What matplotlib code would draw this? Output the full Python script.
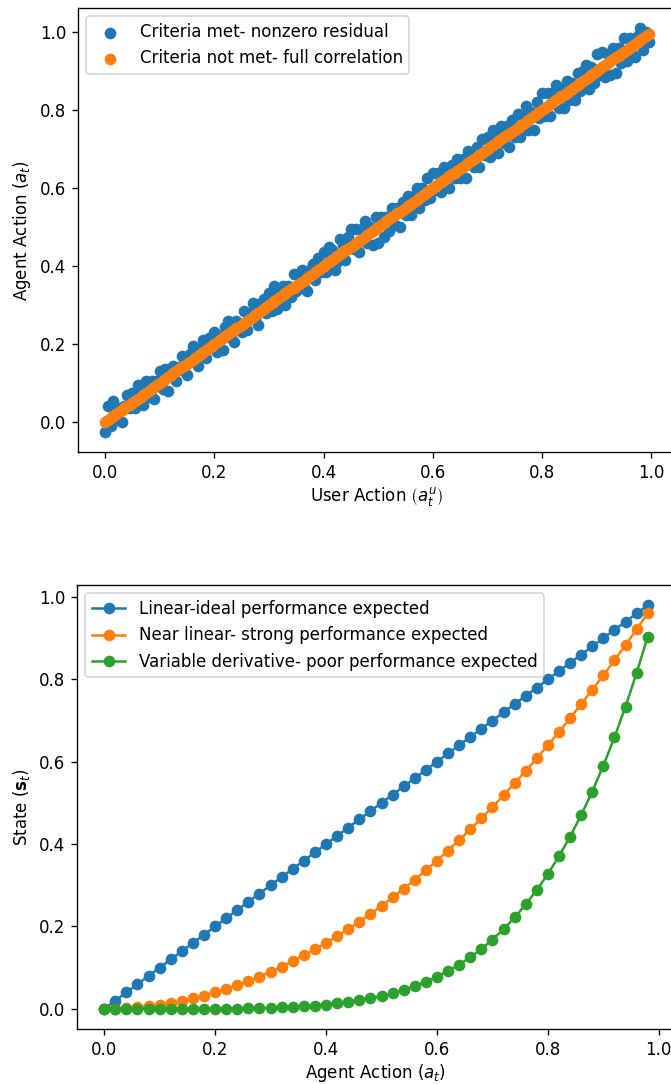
import matplotlib
matplotlib.use("Agg")
import matplotlib.pyplot as plt

# --- top panel: user action vs agent action ---
user_action = [
    0.000, 0.005, 0.010, 0.015, 0.020, 0.025, 0.030, 0.035, 0.040, 0.045,
    0.050, 0.055, 0.060, 0.065, 0.070, 0.075, 0.080, 0.085, 0.090, 0.095,
    0.100, 0.105, 0.110, 0.115, 0.120, 0.125, 0.130, 0.135, 0.140, 0.145,
    0.150, 0.155, 0.160, 0.165, 0.170, 0.175, 0.180, 0.185, 0.190, 0.195,
    0.200, 0.205, 0.210, 0.215, 0.220, 0.225, 0.230, 0.235, 0.240, 0.245,
    0.250, 0.255, 0.260, 0.265, 0.270, 0.275, 0.280, 0.285, 0.290, 0.295,
    0.300, 0.305, 0.310, 0.315, 0.320, 0.325, 0.330, 0.335, 0.340, 0.345,
    0.350, 0.355, 0.360, 0.365, 0.370, 0.375, 0.380, 0.385, 0.390, 0.395,
    0.400, 0.405, 0.410, 0.415, 0.420, 0.425, 0.430, 0.435, 0.440, 0.445,
    0.450, 0.455, 0.460, 0.465, 0.470, 0.475, 0.480, 0.485, 0.490, 0.495,
    0.500, 0.505, 0.510, 0.515, 0.520, 0.525, 0.530, 0.535, 0.540, 0.545,
    0.550, 0.555, 0.560, 0.565, 0.570, 0.575, 0.580, 0.585, 0.590, 0.595,
    0.600, 0.605, 0.610, 0.615, 0.620, 0.625, 0.630, 0.635, 0.640, 0.645,
    0.650, 0.655, 0.660, 0.665, 0.670, 0.675, 0.680, 0.685, 0.690, 0.695,
    0.700, 0.705, 0.710, 0.715, 0.720, 0.725, 0.730, 0.735, 0.740, 0.745,
    0.750, 0.755, 0.760, 0.765, 0.770, 0.775, 0.780, 0.785, 0.790, 0.795,
    0.800, 0.805, 0.810, 0.815, 0.820, 0.825, 0.830, 0.835, 0.840, 0.845,
    0.850, 0.855, 0.860, 0.865, 0.870, 0.875, 0.880, 0.885, 0.890, 0.895,
    0.900, 0.905, 0.910, 0.915, 0.920, 0.925, 0.930, 0.935, 0.940, 0.945,
    0.950, 0.955, 0.960, 0.965, 0.970, 0.975, 0.980, 0.985, 0.990, 0.995,
]
agent_action_noisy = [
    -0.025, 0.040, -0.010, 0.055, 0.005, 0.035, 0.000, 0.040, 0.070, 0.035,
    0.075, 0.035, 0.095, 0.080, 0.045, 0.105, 0.065, 0.105, 0.060, 0.105,
    0.130, 0.085, 0.135, 0.080, 0.135, 0.145, 0.105, 0.140, 0.170, 0.130,
    0.120, 0.175, 0.195, 0.155, 0.145, 0.190, 0.210, 0.165, 0.215, 0.190,
    0.230, 0.180, 0.220, 0.185, 0.245, 0.260, 0.215, 0.205, 0.260, 0.250,
    0.230, 0.285, 0.235, 0.280, 0.305, 0.265, 0.250, 0.305, 0.315, 0.280,
    0.330, 0.285, 0.350, 0.290, 0.330, 0.350, 0.300, 0.350, 0.320, 0.380,
    0.335, 0.375, 0.390, 0.340, 0.335, 0.390, 0.405, 0.365, 0.420, 0.385,
    0.435, 0.385, 0.450, 0.440, 0.390, 0.410, 0.470, 0.455, 0.415, 0.475,
    0.495, 0.445, 0.495, 0.435, 0.495, 0.515, 0.460, 0.500, 0.455, 0.525,
    0.460, 0.525, 0.475, 0.525, 0.490, 0.550, 0.505, 0.550, 0.500, 0.565,
    0.530, 0.580, 0.530, 0.580, 0.600, 0.550, 0.600, 0.570, 0.625, 0.575,
    0.640, 0.595, 0.640, 0.590, 0.655, 0.645, 0.600, 0.660, 0.625, 0.675,
    0.625, 0.675, 0.625, 0.695, 0.685, 0.655, 0.705, 0.655, 0.725, 0.685,
    0.730, 0.680, 0.750, 0.735, 0.690, 0.760, 0.715, 0.760, 0.705, 0.775,
    0.730, 0.790, 0.730, 0.785, 0.810, 0.750, 0.795, 0.750, 0.820, 0.780,
    0.845, 0.785, 0.845, 0.785, 0.845, 0.865, 0.805, 0.855, 0.805, 0.875,
    0.825, 0.870, 0.825, 0.895, 0.850, 0.900, 0.915, 0.855, 0.910, 0.870,
    0.945, 0.890, 0.950, 0.885, 0.945, 0.890, 0.960, 0.895, 0.960, 0.920,
    0.985, 0.925, 0.985, 0.945, 0.935, 0.990, 1.010, 0.955, 1.000, 0.975,
]

# --- bottom panel: agent action vs state ---
agent_action = [
    0.00, 0.02, 0.04, 0.06, 0.08, 0.10, 0.12, 0.14, 0.16, 0.18,
    0.20, 0.22, 0.24, 0.26, 0.28, 0.30, 0.32, 0.34, 0.36, 0.38,
    0.40, 0.42, 0.44, 0.46, 0.48, 0.50, 0.52, 0.54, 0.56, 0.58,
    0.60, 0.62, 0.64, 0.66, 0.68, 0.70, 0.72, 0.74, 0.76, 0.78,
    0.80, 0.82, 0.84, 0.86, 0.88, 0.90, 0.92, 0.94, 0.96, 0.98,
]
state_linear = [
    0.00, 0.02, 0.04, 0.06, 0.08, 0.10, 0.12, 0.14, 0.16, 0.18,
    0.20, 0.22, 0.24, 0.26, 0.28, 0.30, 0.32, 0.34, 0.36, 0.38,
    0.40, 0.42, 0.44, 0.46, 0.48, 0.50, 0.52, 0.54, 0.56, 0.58,
    0.60, 0.62, 0.64, 0.66, 0.68, 0.70, 0.72, 0.74, 0.76, 0.78,
    0.80, 0.82, 0.84, 0.86, 0.88, 0.90, 0.92, 0.94, 0.96, 0.98,
]
state_near_linear = [
    0.0000, 0.0004, 0.0016, 0.0036, 0.0064, 0.0100, 0.0144, 0.0196, 0.0256, 0.0324,
    0.0400, 0.0484, 0.0576, 0.0676, 0.0784, 0.0900, 0.1024, 0.1156, 0.1296, 0.1444,
    0.1600, 0.1764, 0.1936, 0.2116, 0.2304, 0.2500, 0.2704, 0.2916, 0.3136, 0.3364,
    0.3600, 0.3844, 0.4096, 0.4356, 0.4624, 0.4900, 0.5184, 0.5476, 0.5776, 0.6084,
    0.6400, 0.6724, 0.7056, 0.7396, 0.7744, 0.8100, 0.8464, 0.8836, 0.9216, 0.9604,
]
state_variable = [
    0.0000, 0.0000, 0.0000, 0.0000, 0.0000, 0.0000, 0.0000, 0.0001, 0.0001, 0.0002,
    0.0003, 0.0005, 0.0008, 0.0012, 0.0017, 0.0024, 0.0034, 0.0045, 0.0060, 0.0079,
    0.0102, 0.0131, 0.0165, 0.0206, 0.0255, 0.0313, 0.0380, 0.0459, 0.0551, 0.0656,
    0.0778, 0.0916, 0.1074, 0.1252, 0.1454, 0.1681, 0.1935, 0.2219, 0.2536, 0.2887,
    0.3277, 0.3707, 0.4182, 0.4704, 0.5277, 0.5905, 0.6591, 0.7339, 0.8154, 0.9039,
]

# original was drawn at a higher dpi, so everything is ~1.2x larger
fig = plt.figure(figsize=(6.71 / 1.2, 10.84 / 1.2), dpi=120)

# axes run slightly past the right edge, like the cropped original
ax1 = fig.add_axes([0.1162, 0.583, 0.891, 0.4096])
ax1.scatter(user_action, agent_action_noisy, label='Criteria met- nonzero residual')
ax1.scatter(user_action, user_action, label='Criteria not met- full correlation')
ax1.set_xlabel(r'User Action $\left(a^u_t\right)$', labelpad=2)
ax1.set_ylabel(r'Agent Action $\left(a_t\right)$')
ax1.legend(loc='upper left')

ax2 = fig.add_axes([0.1148, 0.0507, 0.891, 0.4096])
ax2.plot(agent_action, state_linear, 'o-', label='Linear-ideal performance expected')
ax2.plot(agent_action, state_near_linear, 'o-', label='Near linear- strong performance expected')
ax2.plot(agent_action, state_variable, 'o-', label='Variable derivative- poor performance expected')
ax2.set_xlabel(r'Agent Action $\left(a_t\right)$', labelpad=2)
ax2.set_ylabel(r'State $\left(\mathbf{s}_t\right)$')
ax2.legend(loc='upper left')

fig.savefig('out.png', dpi=120)
